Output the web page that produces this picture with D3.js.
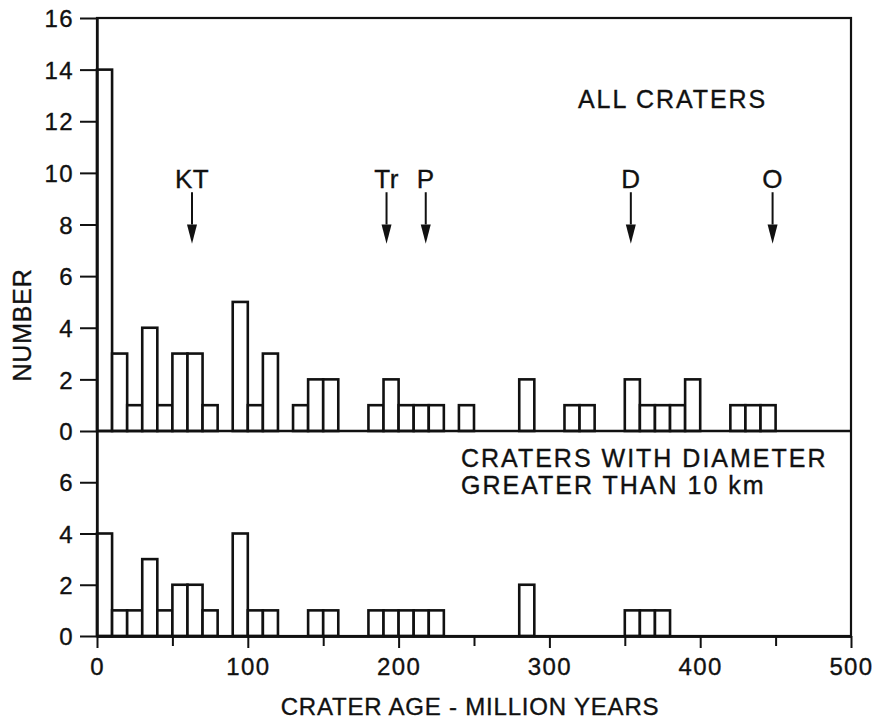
<!DOCTYPE html>
<html>
<head>
<meta charset="utf-8">
<script src="https://cdn.jsdelivr.net/npm/d3@7"></script>
<style>
  html, body { margin: 0; padding: 0; background: #fff; }
  svg { display: block; }
  text { font-family: "Liberation Sans", Arial, Helvetica, sans-serif; fill: #111; stroke: #111; stroke-width: 0.35px; }
</style>
</head>
<body>
<script>
// ---- DATA ----
// bin start ages (Myr), 10 Myr bins
const binWidth = 10;
const allBins   = [0, 10, 20, 30, 40, 50, 60, 70, 90, 100, 110, 130, 140, 150, 180, 190, 200, 210, 220, 240, 280, 310, 320, 350, 360, 370, 380, 390, 420, 430, 440];
const allCounts = [14, 3, 1, 4, 1, 3, 3, 1, 5, 1, 3, 1, 2, 2, 1, 2, 1, 1, 1, 1, 2, 1, 1, 2, 1, 1, 1, 2, 1, 1, 1];
const bigBins   = [0, 10, 20, 30, 40, 50, 60, 70, 90, 100, 110, 140, 150, 180, 190, 200, 210, 220, 280, 350, 360, 370];
const bigCounts = [4, 1, 1, 3, 1, 2, 2, 1, 4, 1, 1, 1, 1, 1, 1, 1, 1, 1, 2, 1, 1, 1];
const eventLabels = ["KT", "Tr", "P", "D", "O"];
const eventAges   = [63, 192, 218, 354, 448];
const xTicksMajor = [0, 100, 200, 300, 400, 500];
const xTicksMinor = [50, 150, 250, 350, 450];
const yTicksTop = [0, 2, 4, 6, 8, 10, 12, 14, 16];
const yTicksBottom = [0, 2, 4, 6];
const topTitle = "ALL CRATERS";
const bottomTitle = ["CRATERS WITH DIAMETER", "GREATER THAN 10 km"];
const xTitle = "CRATER AGE - MILLION YEARS";
const yTitle = "NUMBER";

// ---- LAYOUT ----
const W = 874, H = 727;
const left = 97, right = 851;
const topY0 = 431, topY1 = 18;
const botY0 = 636, botY1 = 431;

const svg = d3.select("body").append("svg").attr("width", W).attr("height", H);

const x = d3.scaleLinear().domain([0, 500]).range([left, right]);
const yTop = d3.scaleLinear().domain([0, 16]).range([topY0, topY1]);
const yBot = d3.scaleLinear().domain([0, 8]).range([botY0, botY1]);

const stroke = "#111";

function drawBars(bins, counts, y) {
  const data = bins.map((b, i) => ({ b, c: counts[i] }));
  svg.append("g").selectAll("rect").data(data).join("rect")
    .attr("x", d => x(d.b))
    .attr("y", d => y(d.c))
    .attr("width", d => x(d.b + binWidth) - x(d.b))
    .attr("height", d => y(0) - y(d.c))
    .attr("fill", "#fff")
    .attr("stroke", stroke)
    .attr("stroke-width", 2.6);
}
drawBars(allBins, allCounts, yTop);
drawBars(bigBins, bigCounts, yBot);

// frame
svg.append("rect")
  .attr("x", left).attr("y", topY1)
  .attr("width", right - left).attr("height", botY0 - topY1)
  .attr("fill", "none").attr("stroke", stroke).attr("stroke-width", 2.2);
svg.append("line")
  .attr("x1", left).attr("x2", right)
  .attr("y1", topY0).attr("y2", topY0)
  .attr("stroke", stroke).attr("stroke-width", 2.6);

// axes
function styleAxis(g) {
  g.selectAll("path.domain").attr("stroke", stroke).attr("stroke-width", 2.4);
  g.selectAll(".tick line").attr("stroke", stroke).attr("stroke-width", 2);
  g.selectAll(".tick text")
    .attr("font-family", "'Liberation Sans', Arial, sans-serif")
    .attr("font-size", 24)
    .attr("fill", "#111")
    .style("letter-spacing", "1.4px");
}
const gyTop = svg.append("g").attr("transform", `translate(${left},0)`)
  .call(d3.axisLeft(yTop).tickValues(yTicksTop).tickSize(17).tickPadding(6).tickSizeOuter(0));
styleAxis(gyTop);
const gyBot = svg.append("g").attr("transform", `translate(${left},0)`)
  .call(d3.axisLeft(yBot).tickValues(yTicksBottom).tickSize(17).tickPadding(6).tickSizeOuter(0));
styleAxis(gyBot);
gyTop.selectAll(".tick text").attr("dy", "0.36em");
gyBot.selectAll(".tick text").attr("dy", "0.36em");

const gx = svg.append("g").attr("transform", `translate(0,${botY0})`)
  .call(d3.axisBottom(x).tickValues(xTicksMajor).tickSize(12).tickPadding(10).tickSizeOuter(0));
styleAxis(gx);
const gxm = svg.append("g").attr("transform", `translate(0,${botY0})`)
  .call(d3.axisBottom(x).tickValues(xTicksMinor).tickSize(10).tickFormat("").tickSizeOuter(0));
styleAxis(gxm);

// event arrows
const ev = svg.append("g");
eventLabels.forEach((lab, i) => {
  const ax = x(eventAges[i]);
  ev.append("text").attr("x", ax).attr("y", yTop(9.4))
    .attr("text-anchor", "middle").attr("font-size", 26)
    .style("letter-spacing", "0.5px")
    .text(lab);
  const tip = yTop(7.25), base = yTop(8.0);
  ev.append("line").attr("x1", ax).attr("x2", ax)
    .attr("y1", yTop(9.25)).attr("y2", base)
    .attr("stroke", stroke).attr("stroke-width", 2);
  ev.append("path")
    .attr("d", `M${ax - 5},${base} L${ax + 5},${base} L${ax},${tip} Z`)
    .attr("fill", stroke);
});

// panel titles
svg.append("text").attr("x", 578).attr("y", 108)
  .attr("font-size", 25).style("letter-spacing", "1.9px").text(topTitle);
bottomTitle.forEach((t, i) => {
  svg.append("text").attr("x", 461).attr("y", 467 + i * 26.5)
    .attr("font-size", 25).style("letter-spacing", "2px").text(t);
});

// axis titles
svg.append("text").attr("x", 470).attr("y", 715)
  .attr("text-anchor", "middle").attr("font-size", 24)
  .style("letter-spacing", "0.8px").text(xTitle);
svg.append("text").attr("transform", "translate(31,325) rotate(-90)")
  .attr("text-anchor", "middle").attr("font-size", 25)
  .style("letter-spacing", "0.8px").text(yTitle);
</script>
</body>
</html>
